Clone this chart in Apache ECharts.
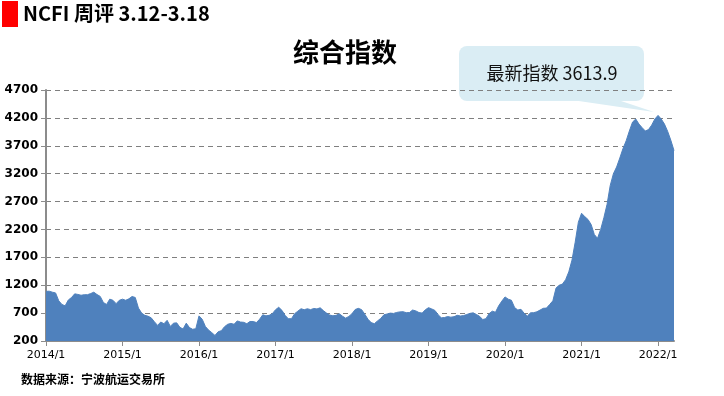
<!DOCTYPE html>
<html>
<head>
<meta charset="utf-8">
<script src="https://cdn.jsdelivr.net/npm/echarts@6/dist/echarts.min.js"></script>
<style>
html,body{margin:0;padding:0;background:#fff;}
#c{width:724px;height:396px;}
</style>
</head>
<body>
<div id="c"></div>
<script>
// Half-monthly NCFI composite index values, by year
var v2014 = [1090,1093,1075,1062,920,855,830,935,980,1045,1035,1020,1030,1030,1050,1075,1033,1000,890,855,950,930,870,930];
var v2015 = [950,930,956,998,980,790,700,660,645,615,545,480,540,510,570,462,520,525,445,415,520,440,410,420];
var v2016 = [650,590,460,395,350,300,365,385,456,500,515,500,560,540,535,510,550,550,530,590,670,651,660,690];
var v2017 = [760,805,750,660,600,600,690,735,778,761,778,762,783,775,795,745,700,665,652,660,688,645,610,640];
var v2018 = [690,765,785,762,680,590,530,510,560,605,670,684,700,694,712,722,725,708,710,755,740,710,700,760];
var v2019 = [798,775,748,672,615,621,638,627,636,660,648,656,675,695,705,676,643,585,600,690,735,715,830,915];
var v2020 = [990,950,930,800,755,768,696,648,705,708,724,755,786,790,855,920,1150,1200,1220,1300,1440,1650,1970,2330];
var v2021 = [2490,2430,2380,2290,2110,2040,2200,2410,2650,2990,3200,3320,3480,3650,3790,3965,4125,4180,4090,4025,3965,3990,4070,4180];
var v2022 = [4245,4180,4090,3960,3800,3613.9];
var years = [2014,2015,2016,2017,2018,2019,2020,2021,2022];
var yearValues = [v2014,v2015,v2016,v2017,v2018,v2019,v2020,v2021,v2022];
var yTicks = [200,700,1200,1700,2200,2700,3200,3700,4200,4700];
var latestLabel = '最新指数 3613.9';

var categories = [];
var values = [];
years.forEach(function(y, yi){
  yearValues[yi].forEach(function(val, k){
    var m = Math.floor(k/2) + 1;
    categories.push(y + '/' + m + (k % 2 ? '/16' : '/1'));
    values.push(val);
  });
});
function isYearStart(idx){ return idx % 24 === 0; }

var chart = echarts.init(document.getElementById('c'), null, {renderer:'canvas'});
var font = '"Noto Sans CJK SC", "Noto Sans", sans-serif';
chart.setOption({
  animation:false,
  backgroundColor:'#ffffff',
  grid:{left:46, right:50, top:90, bottom:55, containLabel:false},
  xAxis:{
    type:'category',
    data:categories,
    boundaryGap:false,
    axisLine:{lineStyle:{color:'#8c8c8c', width:2}},
    axisTick:{show:true, interval:function(i){return isYearStart(i);}, length:5, lineStyle:{color:'#8c8c8c', width:1}},
    axisLabel:{
      interval:function(i){return isYearStart(i);},
      formatter:function(val){ return val.split('/')[0] + '/1'; },
      color:'#000', fontSize:11, fontFamily:'"DejaVu Sans", sans-serif', margin:9
    },
    splitLine:{show:false}
  },
  yAxis:{
    type:'value',
    min:yTicks[0], max:yTicks[yTicks.length-1], interval:500,
    axisLine:{show:true, lineStyle:{color:'#8c8c8c', width:2}},
    axisTick:{show:true, length:5, lineStyle:{color:'#8c8c8c'}},
    axisLabel:{color:'#000', fontSize:12, fontWeight:'bold', fontFamily:'"DejaVu Sans", sans-serif', margin:8,
      formatter:function(v){ return String(v); }},
    splitLine:{show:true, lineStyle:{color:'#7f7f7f', type:[5,4], width:1}}
  },
  series:[{
    type:'line',
    data:values,
    symbol:'none',
    smooth:false,
    lineStyle:{color:'#4f81bd', width:1},
    areaStyle:{color:'#4f81bd', opacity:1},
    z:1
  }],
  graphic:[
    {type:'rect', left:2, top:1, shape:{width:16, height:26}, style:{fill:'#ff0000'}},
    {type:'text', left:23, top:3, style:{text:'NCFI 周评 3.12-3.18', fill:'#000', font:'bold 20px ' + font}},
    {type:'text', x:345, y:52, style:{text:'综合指数', fill:'#000', font:'bold 26px ' + font, align:'center', verticalAlign:'middle'}},
    {type:'polygon', shape:{points:[[565,99],[615,99],[654,112]]}, style:{fill:'#daedf4'}},
    {type:'rect', shape:{x:459, y:46, width:185, height:55, r:8}, style:{fill:'#daedf4'}},
    {type:'text', x:552, y:73, style:{text:latestLabel, fill:'#111', font:'18px ' + font, align:'center', verticalAlign:'middle'}},
    {type:'text', left:21, top:373, style:{text:'数据来源：宁波航运交易所', fill:'#000', font:'bold 12px ' + font}}
  ]
});
</script>
</body>
</html>
